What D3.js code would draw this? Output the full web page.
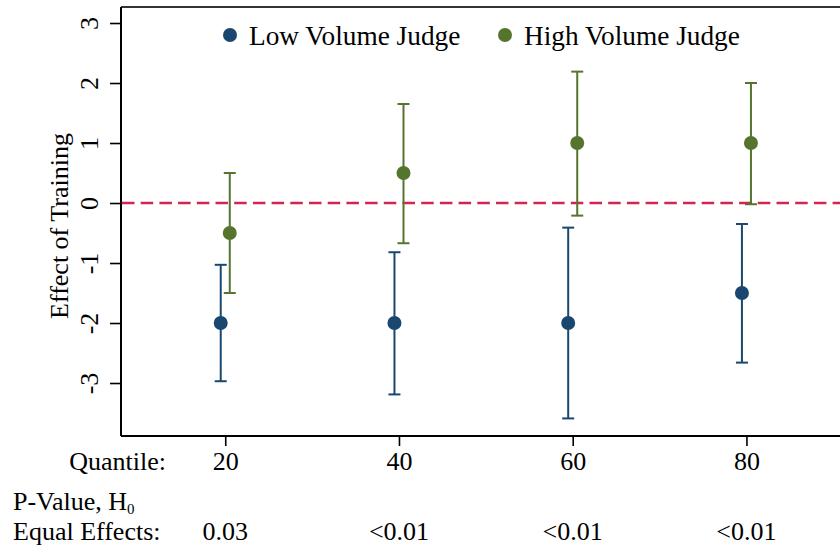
<!DOCTYPE html>
<html>
<head>
<meta charset="utf-8">
<script src="https://cdn.jsdelivr.net/npm/d3@7"></script>
<style>
  body { margin: 0; background: #fff; }
  svg { display: block; }
  svg text { font-family: "Liberation Serif", "Times New Roman", serif; }
</style>
</head>
<body>
<div id="chart"></div>
<script>
// quantiles of the outcome and the two judge groups
var quantiles = [20, 40, 60, 80];
var lowEst = [-2, -2, -2, -1.5];
var lowLo  = [-2.97, -3.19, -3.59, -2.66];
var lowHi  = [-1.03, -0.82, -0.41, -0.35];
var highEst = [-0.5, 0.5, 1, 1];
var highLo  = [-1.5, -0.67, -0.21, -0.02];
var highHi  = [0.5, 1.65, 2.19, 2.0];
var pValues = ["0.03", "<0.01", "<0.01", "<0.01"];
var yTicks = [-3, -2, -1, 0, 1, 2, 3];
var seriesNames = ["Low Volume Judge", "High Volume Judge"];

var blue = "#1a476f";
var green = "#55752f";
var fontSize = 26;
var serif = "'Liberation Serif', 'Times New Roman', serif";

var svgWidth = 840, svgHeight = 550;

var svg = d3.select("#chart")
  .append("svg")
  .attr("width", svgWidth)
  .attr("height", svgHeight)
  .attr("font-family", serif);

// plot region
var xScale = d3.scaleLinear().domain([8, 91]).range([121, 842]);
var yScale = d3.scaleLinear().domain([-3.883, 3.267]).range([436, 7]);

// build the two series from the arrays
var series = [
  { name: seriesNames[0], color: blue, dodge: -0.52,
    pts: quantiles.map((q, i) => ({ q: q, est: lowEst[i], lo: lowLo[i], hi: lowHi[i] })) },
  { name: seriesNames[1], color: green, dodge: 0.52,
    pts: quantiles.map((q, i) => ({ q: q, est: highEst[i], lo: highLo[i], hi: highHi[i] })) }
];

// top line of the frame
svg.append("line")
  .attr("x1", xScale.range()[0]).attr("x2", svgWidth)
  .attr("y1", yScale.range()[1]).attr("y2", yScale.range()[1])
  .attr("stroke", "#333").attr("stroke-width", 2);

// y axis (plain hyphen for negatives, like the original)
var yAxis = d3.axisLeft(yScale).tickValues(yTicks).tickSize(11).tickFormat(d => String(d));
var gy = svg.append("g")
  .attr("transform", `translate(${xScale.range()[0]},0)`)
  .call(yAxis)
  .attr("font-family", serif)
  .attr("font-size", fontSize);
gy.select(".domain").attr("stroke", "#000").attr("stroke-width", 2).attr("d", `M0,${yScale.range()[1]}V${yScale.range()[0]}`);
gy.selectAll(".tick line").attr("stroke", "#000").attr("stroke-width", 1.6);
gy.selectAll(".tick text")
  .attr("fill", "#000")
  .attr("x", 0).attr("dy", 0)
  .attr("text-anchor", "middle")
  .attr("transform", "translate(-23,0) rotate(-90)");

// x axis
var xAxis = d3.axisBottom(xScale).tickValues(quantiles).tickSize(10).tickFormat(d => String(d));
var gx = svg.append("g")
  .attr("transform", `translate(0,${yScale.range()[0]})`)
  .call(xAxis)
  .attr("font-family", serif)
  .attr("font-size", fontSize);
gx.select(".domain").attr("stroke", "#000").attr("stroke-width", 2).attr("d", `M${xScale.range()[0]},0H${svgWidth}`);
gx.selectAll(".tick line").attr("stroke", "#000").attr("stroke-width", 1.6);
gx.selectAll(".tick text")
  .attr("fill", "#000")
  .attr("y", 34).attr("dy", 0);

// zero reference line
svg.append("line")
  .attr("x1", xScale.range()[0] + 1).attr("x2", svgWidth)
  .attr("y1", yScale(0)).attr("y2", yScale(0))
  .attr("stroke", "#d32551")
  .attr("stroke-width", 2.6)
  .attr("stroke-dasharray", "12.5,6.2");

// error bars and points
var capHalf = 6;
series.forEach(function(s) {
  var g = svg.append("g");
  var bars = g.selectAll(".bar").data(s.pts).enter().append("g");
  bars.append("line")
    .attr("x1", d => xScale(d.q + s.dodge)).attr("x2", d => xScale(d.q + s.dodge))
    .attr("y1", d => yScale(d.lo)).attr("y2", d => yScale(d.hi))
    .attr("stroke", s.color).attr("stroke-width", 2);
  bars.append("line")
    .attr("x1", d => xScale(d.q + s.dodge) - capHalf).attr("x2", d => xScale(d.q + s.dodge) + capHalf)
    .attr("y1", d => yScale(d.hi)).attr("y2", d => yScale(d.hi))
    .attr("stroke", s.color).attr("stroke-width", 2);
  bars.append("line")
    .attr("x1", d => xScale(d.q + s.dodge) - capHalf).attr("x2", d => xScale(d.q + s.dodge) + capHalf)
    .attr("y1", d => yScale(d.lo)).attr("y2", d => yScale(d.lo))
    .attr("stroke", s.color).attr("stroke-width", 2);
  bars.append("circle")
    .attr("cx", d => xScale(d.q + s.dodge))
    .attr("cy", d => yScale(d.est))
    .attr("r", 7)
    .attr("fill", s.color);
});

// legend
var legendX = [230, 505];
series.forEach(function(s, i) {
  svg.append("circle")
    .attr("cx", legendX[i]).attr("cy", 35).attr("r", 7)
    .attr("fill", s.color);
  svg.append("text")
    .attr("x", legendX[i] + 19).attr("y", 45)
    .attr("font-size", 27.3)
    .text(s.name);
});

// y title
svg.append("text")
  .attr("transform", "translate(68,226) rotate(-90)")
  .attr("text-anchor", "middle")
  .attr("font-size", fontSize)
  .text("Effect of Training");

// table under the axis
svg.append("text")
  .attr("x", 166).attr("y", 470)
  .attr("text-anchor", "end")
  .attr("font-size", fontSize)
  .text("Quantile:");

var pv = svg.append("text")
  .attr("x", 13).attr("y", 510)
  .attr("font-size", fontSize)
  .text("P-Value, H");
pv.append("tspan")
  .attr("font-size", 15)
  .attr("dy", 4)
  .text("0");

svg.append("text")
  .attr("x", 13).attr("y", 540)
  .attr("font-size", fontSize)
  .text("Equal Effects:");

svg.selectAll(".pval")
  .data(pValues)
  .enter()
  .append("text")
  .attr("class", "pval")
  .attr("x", (d, i) => xScale(quantiles[i]))
  .attr("y", 540)
  .attr("text-anchor", "middle")
  .attr("font-size", fontSize)
  .text(d => d);
</script>
</body>
</html>
